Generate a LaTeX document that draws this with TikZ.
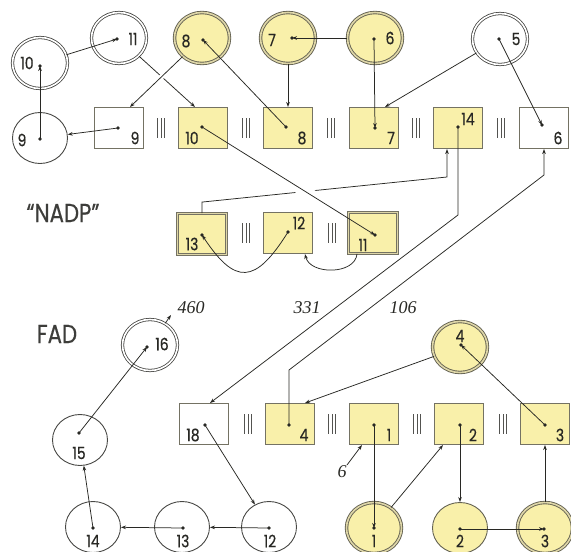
\documentclass[tikz,border=0pt]{standalone}
\usepackage{fontspec}
\usetikzlibrary{arrows.meta,shapes.geometric,calc}
\newfontfamily\gfont[FakeStretch=0.82,FakeBold=0.5]{Poppins}
\newfontfamily\ifont{Liberation Serif}
\definecolor{yel}{RGB}{249,240,170}
\definecolor{edge}{RGB}{100,98,82}
\definecolor{ink}{RGB}{40,40,36}
\definecolor{gapc}{RGB}{222,214,168}
\newcommand\pdot[1]{\fill[ink] (#1) circle (1.8);}
\begin{document}
\begin{tikzpicture}[x=1pt,y=-1pt,
 wcirc/.style={ellipse, draw=ink!85, line width=0.9pt, fill=white, minimum width=55pt, minimum height=51pt, inner sep=0pt},
 wdcirc/.style={wcirc, double=white, double distance=1.6pt, line width=0.8pt},
 ycirc/.style={wcirc, fill=yel, draw=edge},
 ydcirc/.style={ycirc, double=gapc, double distance=1.6pt, line width=0.9pt},
 wbox/.style={rectangle, draw=edge!90, line width=1pt, fill=white, minimum width=49pt, minimum height=41pt, inner sep=0pt},
 ybox/.style={wbox, fill=yel},
 ydbox/.style={ybox, double=gapc, double distance=1.8pt, line width=0.85pt},
 num/.style={font=\gfont\fontsize{17}{17}\selectfont, text=ink, inner sep=0pt},
 inum/.style={font=\ifont\itshape\fontsize{18}{18}\selectfont, text=ink, inner sep=0pt},
 big/.style={font=\gfont\fontsize{26}{26}\selectfont, text=ink!90, inner sep=0pt},
 conn/.style={draw=ink, line width=0.75pt},
 tip/.style={-{Stealth[length=5pt,width=3.6pt]}},
 sepp/.pic={\draw[ink!80, line width=0.7pt] (-3.5,-10) -- (-3.5,10) (0,-10) -- (0,10) (3.5,-10) -- (3.5,10);}
 ]
\fill[white] (0,0) rectangle (571,552);
\useasboundingbox (0,0) rectangle (571,552);

% ---------- top circles
\node[wdcirc] (c10) at (40,63) {};
\node[wdcirc] (c11) at (119,38) {};
\node[ydcirc] (c8) at (202,38) {};
\node[ydcirc] (c7) at (288,38) {};
\node[ydcirc] (c6) at (375,38) {};
\node[wdcirc] (c5) at (500,39) {};
\node[wcirc] (c9) at (40,138) {};
\node[num] (t10) at (27,63) {10};
\node[num] (t11) at (133,39) {11};
\node[num] (t8) at (186,41) {8};
\node[num] (t7) at (272,40) {7};
\node[num] (t6) at (390,38) {6};
\node[num] (t5) at (516,39) {5};
\node[num] (t9) at (22,140) {9};

% ---------- top boxes
\node[wbox] (b9) at (119,128) {};
\node[ybox] (b10) at (203,128) {};
\node[ybox] (b8) at (288,128) {};
\node[ybox] (b7) at (374,128) {};
\node[ybox] (b14) at (458,128) {};
\node[wbox] (b6) at (544,128) {};
\node[num] (tb9) at (135,138) {9};
\node[num] (tb10) at (192,138) {10};
\node[num] (tb8) at (302,138) {8};
\node[num] (tb7) at (391,138) {7};
\node[num] (tb14) at (468,119) {14};
\node[num] (tb6) at (558,138) {6};
\pic at (161,128) {sepp};
\pic at (246,128) {sepp};
\pic at (331,128) {sepp};
\pic at (416,128) {sepp};
\pic at (501,128) {sepp};

% ---------- middle boxes
\node[ydbox] (b13) at (202,234) {};
\node[ybox] (b12) at (288,233) {};
\node[ydbox] (b11) at (373,233) {};
\node[num] (tb13) at (192,244) {13};
\node[num] (tb12) at (299,223) {12};
\node[num] (tb11) at (363,245) {11};
\pic at (246,233) {sepp};
\pic at (332,233) {sepp};

% ---------- bottom boxes
\node[wbox] (b18) at (204,424) {};
\node[ybox] (b4) at (290,424) {};
\node[ybox] (b1) at (374,424) {};
\node[ybox] (b2) at (459,424) {};
\node[ybox] (b3) at (545,424) {};
\node[num] (tb18) at (193,435) {18};
\node[num] (tb4) at (304,435) {4};
\node[num] (tb1) at (389,435) {1};
\node[num] (tb2) at (473,435) {2};
\node[num] (tb3) at (560,435) {3};
\pic at (248,424) {sepp};
\pic at (332,424) {sepp};
\pic at (417,424) {sepp};
\pic at (503,424) {sepp};

% ---------- bottom circles
\node[ydcirc] (c4) at (460,347) {};
\node[ydcirc] (c1) at (374,528) {};
\node[ycirc] (c2) at (460,528) {};
\node[ydcirc] (c3) at (545,528) {};
\node[wcirc] (c12) at (269,527) {};
\node[wcirc] (c13) at (182,527) {};
\node[wcirc] (c14) at (93,527) {};
\node[wcirc] (c15) at (80,440) {};
\node[wdcirc] (c16) at (150,345) {};
\node[num] (t4) at (460,336) {4};
\node[num] (t1) at (374,541) {1};
\node[num] (t2) at (460,541) {2};
\node[num] (t3) at (545,541) {3};
\node[num] (t12) at (270,541) {12};
\node[num] (t13) at (183,541) {13};
\node[num] (t14) at (93,541) {14};
\node[num] (t15) at (79,453) {15};
\node[num] (t16) at (162,344) {16};

% ---------- texts
\node[big] (nadp) at (63,213) {“NADP”};
\node[big] (fad) at (57,334) {FAD};
\node[inum] (n460) at (191,308) {460};
\node[inum] (n331) at (307,308) {331};
\node[inum] (n106) at (403,308) {106};
\node[inum] (n6) at (342,472) {6};

% ---------- pins
\coordinate (p10) at (40,66);
\coordinate (p11) at (117,39);
\coordinate (p8) at (203,40);
\coordinate (p7) at (292,38);
\coordinate (p6) at (374,39);
\coordinate (p5) at (499,39);
\coordinate (p9) at (40,139);
\coordinate (pb9) at (118,128);
\coordinate (pb10) at (202,127);
\coordinate (pb8) at (286,127);
\coordinate (pb7) at (375,128);
\coordinate (pb14) at (458,127);
\coordinate (pb6) at (542,125);
\coordinate (pb13) at (202,235);
\coordinate (pb12) at (288,232);
\coordinate (pb11) at (375,235);
\coordinate (pb18) at (205,425);
\coordinate (pb4) at (289,425);
\coordinate (pb1) at (374,425);
\coordinate (pb2) at (460,425);
\coordinate (pb3) at (545,425);
\coordinate (pc4) at (461,345);
\coordinate (pc1) at (374,528);
\coordinate (pc2) at (460,529);
\coordinate (pc3) at (544,529);
\coordinate (pc12) at (269,528);
\coordinate (pc13) at (183,528);
\coordinate (pc14) at (93,528);
\coordinate (pc15) at (79,433);
\coordinate (pc16) at (147,347);
\coordinate (k13) at (447,177);
\coordinate (k14) at (458,215);
\coordinate (k4) at (289,370);
\coordinate (k6) at (544,175);
\coordinate (k460) at (171,315);
\coordinate (k6s) at (347,465);

% ---------- connectors top
\draw[conn,tip] (p9) -- (p10);
\draw[conn,tip] (c10) -- (p11);
\draw[conn,tip] (c11) -- ($(b10.north)+(-8,0)$);
\path (c8) -- ($(b9.north)+(11,0)$) coordinate[pos=0.3] (x1) coordinate[pos=0.45] (x2);
\draw[white, line width=5pt] (x1) -- (x2);
\draw[conn,tip] (c8) -- ($(b9.north)+(11,0)$);
\draw[conn,tip] (pb9) -- (c9);
\draw[conn,tip] (pb8) -- (p8);
\draw[conn,tip] (c7) -- (b8.north);
\draw[conn,tip] (p6) -- (pb7);
\draw[conn,tip] (c6) -- (p7);
\draw[conn,tip] (p5) -- (pb6);
\draw[conn,tip] (c5) -- ($(b7.north)+(11,0)$);

% ---------- connectors middle
\draw[conn,tip] (b13.north) -- ++(0,-11) -- (k13) -- (k13 |- b14.south);
\draw[white, line width=12pt] ($(pb10)!0.55!(pb11)$) -- ($(pb10)!0.66!(pb11)$);
\draw[conn,tip] (pb10) -- (pb11);
\draw[conn,tip] (pb12) .. controls (255,285) and (235,285) .. (pb13);
\draw[conn,tip] ($(b11.south)+(-16,0)$) .. controls (355,275) and (310,275) .. ($(b12.south)+(17,0)$);
\draw[conn,tip] (pb14) -- (k14) -- ($(b18.north)+(6,0)$);
\draw[conn,tip] (pb4) -- (k4) -- (k6) -- (b6.south);

% ---------- connectors bottom
\draw[conn,tip] (c4) -- ($(b4.north)+(15,0)$);
\draw[conn,tip] (pb3) -- (pc4);
\draw[conn,tip] (pb1) -- (pc1);
\draw[conn,tip] (c1) -- ($(b2.south)+(-16,0)$);
\draw[conn,tip] (pb2) -- (c2.north);
\draw[conn,tip] (pc2) -- (pc3);
\draw[conn,tip] (c3.north) -- (b3.south);
\draw[conn,tip] (k6s) -- ($(b1.south west)+(13,0)$);
\draw[conn,tip] (pb18) -- (c12);
\draw[conn,tip] (pc12) -- (c13);
\draw[conn,tip] (pc13) -- (c14);
\draw[conn,tip] (pc14) -- (c15);
\draw[conn,tip] (pc15) -- (pc16);
\draw[conn,tip] (c16) -- (k460);

% ---------- dots
\foreach \p in {p10,p11,p8,p7,p6,p5,p9,pb9,pb10,pb8,pb7,pb14,pb6,pb13,pb12,pb11,pb18,pb4,pb1,pb2,pb3,pc4,pc1,pc2,pc3,pc12,pc13,pc14,pc15,pc16}{\pdot{\p}}
\end{tikzpicture}
\end{document}
